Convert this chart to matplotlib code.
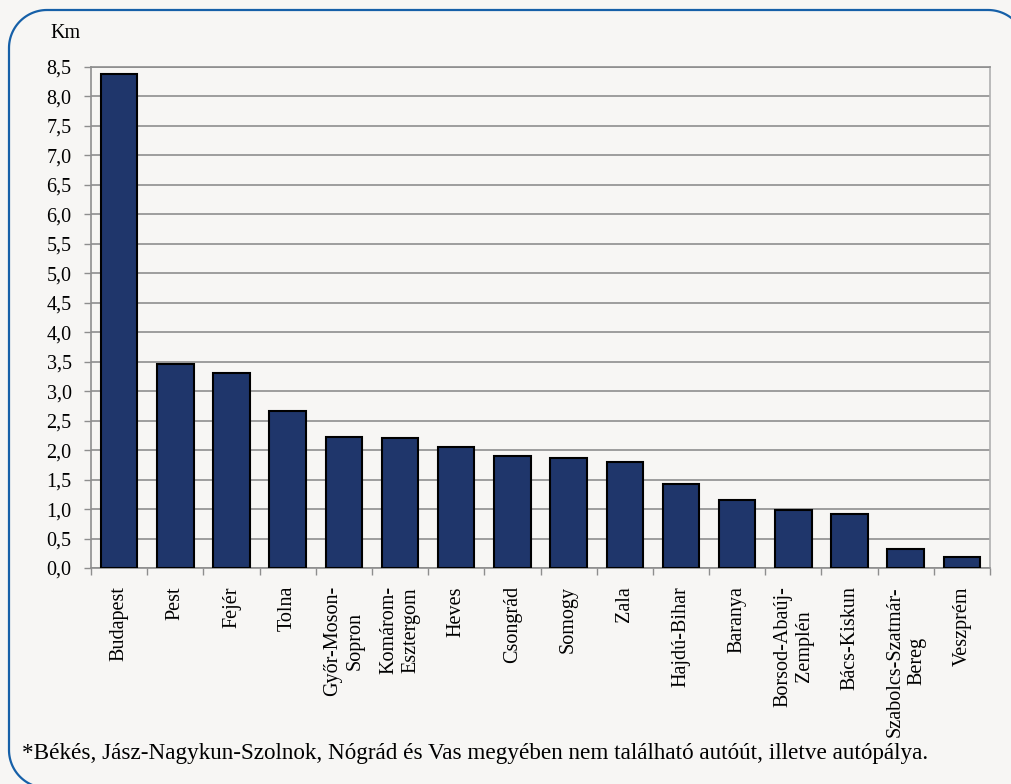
import numpy as np
import matplotlib.pyplot as plt
from matplotlib.lines import Line2D

# 数据
megyek = ['Budapest', 'Pest', 'Fejér', 'Tolna', 'Győr-Moson-\nSopron',
          'Komárom-\nEsztergom', 'Heves', 'Csongrád', 'Somogy', 'Zala',
          'Hajdú-Bihar', 'Baranya', 'Borsod-Abaúj-\nZemplén', 'Bács-Kiskun',
          'Szabolcs-Szatmár-\nBereg', 'Veszprém']
km = [8.38, 3.46, 3.30, 2.67, 2.23, 2.21, 2.06, 1.90, 1.87, 1.79,
      1.43, 1.15, 0.98, 0.92, 0.32, 0.18]
y_ticks = np.arange(0, 8.51, 0.5)
y_labels = [f'{v:.1f}'.replace('.', ',') for v in y_ticks]
footnote = ('*Békés, Jász-Nagykun-Szolnok, Nógrád és Vas megyében nem '
            'található autóút, illetve autópálya.')

BG = '#F7F6F4'
BAR = '#1F366B'
GRID = '#8E8E8E'

plt.rcParams['font.family'] = ['Liberation Serif', 'DejaVu Serif']

W, H = 1011, 784
fig = plt.figure(figsize=(W / 100, H / 100), dpi=100)
fig.patch.set_facecolor(BG)


def arc(cx, cy, r, a0, a1):
    t = np.radians(np.linspace(a0, a1, 30))
    return cx + r * np.cos(t), cy + r * np.sin(t)


# 圆角边框（像素坐标，y向上），只画可见部分，右侧和底部超出画面
R = 38
xl, xr = 9, 1026
yt, yb = H - 10, H - 788
pts_x, pts_y = [300], [yb]
for cx, cy, a0, a1 in [(xl + R, yb + R, 270, 180),
                       (xl + R, yt - R, 180, 90),
                       (xr - R, yt - R, 90, 0)]:
    ax_, ay_ = arc(cx, cy, R, a0, a1)
    pts_x.extend(ax_)
    pts_y.extend(ay_)
pts_x.append(xr)
pts_y.append(0)
fig.add_artist(Line2D(np.array(pts_x) / W, np.array(pts_y) / H,
                      transform=fig.transFigure, color='#1660A8', lw=1.6))

ax = fig.add_axes([91 / W, 1 - 568 / H, (990 - 91) / W, (568 - 67) / H])
ax.set_facecolor(BG)

x = np.arange(len(megyek))
ax.bar(x, km, width=0.65, color=BAR, edgecolor='black', lw=1.5, zorder=3)

ax.set_xlim(-0.5, len(megyek) - 0.5)
ax.set_ylim(0, 8.5)
ax.set_yticks(y_ticks)
ax.set_yticklabels(y_labels, fontsize=14.5)
ax.set_xticks(x)
ax.set_xticklabels(megyek, rotation=90, fontsize=14.5, multialignment='center')
ax.set_xticks(np.arange(-0.5, len(megyek)), minor=True)
ax.tick_params(axis='x', which='major', length=0, pad=13)
ax.tick_params(axis='x', which='minor', length=5, color=GRID, width=1)
ax.tick_params(axis='y', length=5, color=GRID, width=1, pad=9)

ax.grid(axis='y', color=GRID, lw=1.2, zorder=0)
ax.set_axisbelow(True)
for side in ['left', 'bottom', 'top']:
    ax.spines[side].set_color(GRID)
    ax.spines[side].set_linewidth(1.2)
ax.spines['right'].set_color('#B0B0B0')
ax.spines['right'].set_linewidth(1.2)

fig.text(50 / W, 1 - 33 / H, 'Km', fontsize=14.5, va='center', ha='left')
fig.text(22 / W, 1 - 754 / H, footnote, fontsize=16.7, va='center', ha='left')

fig.savefig('out.png', dpi=100, facecolor=BG)
